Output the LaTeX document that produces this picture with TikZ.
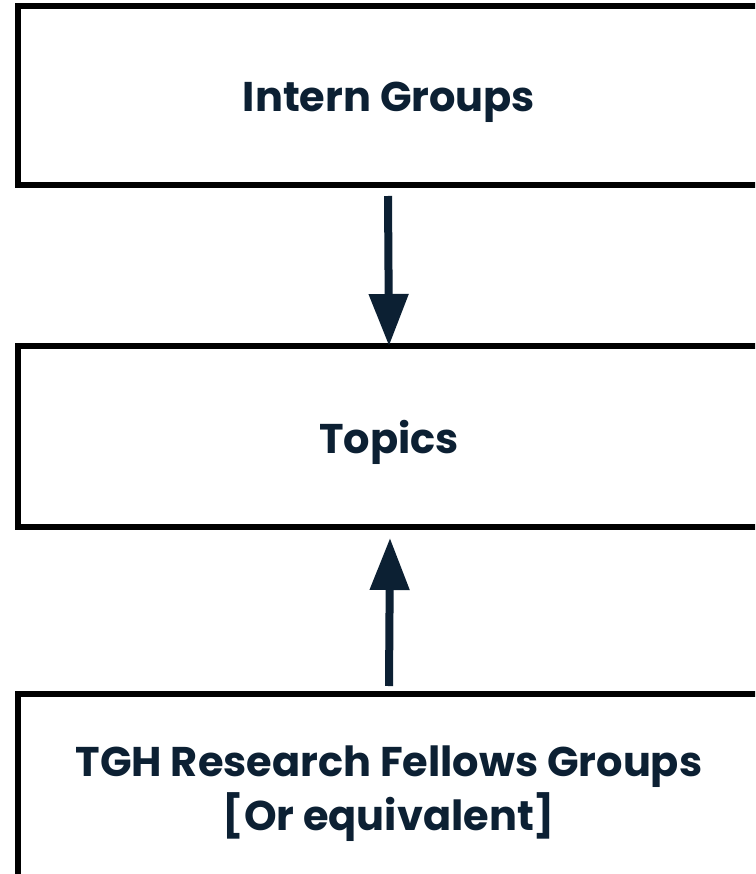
\documentclass[tikz,border=0pt]{standalone}
\usepackage{fontspec}
\setmainfont{Poppins}
\usetikzlibrary{arrows.meta}
\definecolor{navy}{HTML}{0C2033}
\tikzset{
  box/.style={draw=black, line width=6pt, fill=white, outer sep=0pt, inner sep=0pt,
    text=navy, font=\fontsize{41.5}{54}\selectfont\bfseries, align=center},
  oneline/.style={text height=33pt, text depth=0pt},
  twoline/.style={text height=88pt, text depth=0pt},
  arr/.style={draw=navy, line width=8pt, line cap=butt,
    -{Triangle[width=38pt, length=52pt]}}
}
\begin{document}
\begin{tikzpicture}[x=1pt, y=-1pt]
\useasboundingbox (0,0) rectangle (755,874);
\clip (0,0) rectangle (755,874);
\fill[white] (0,0) rectangle (755,874);
\node[box, oneline, minimum width=742pt, minimum height=179pt] (top) at (389,95.5) {Intern Groups};
\node[box, oneline, minimum width=742pt, minimum height=181pt] (mid) at (389,436.5) {Topics};
\node[box, twoline, minimum width=742pt, minimum height=184pt] (bot) at (389,786) {TGH Research Fellows Groups\\{[Or equivalent]}};
\draw[arr] ([xshift=-1pt, yshift=-11pt]top.south) -- (mid.north);
\draw[arr] ([yshift=8pt]bot.north) -- ([xshift=1pt, yshift=-11pt]mid.south);
\end{tikzpicture}
\end{document}
